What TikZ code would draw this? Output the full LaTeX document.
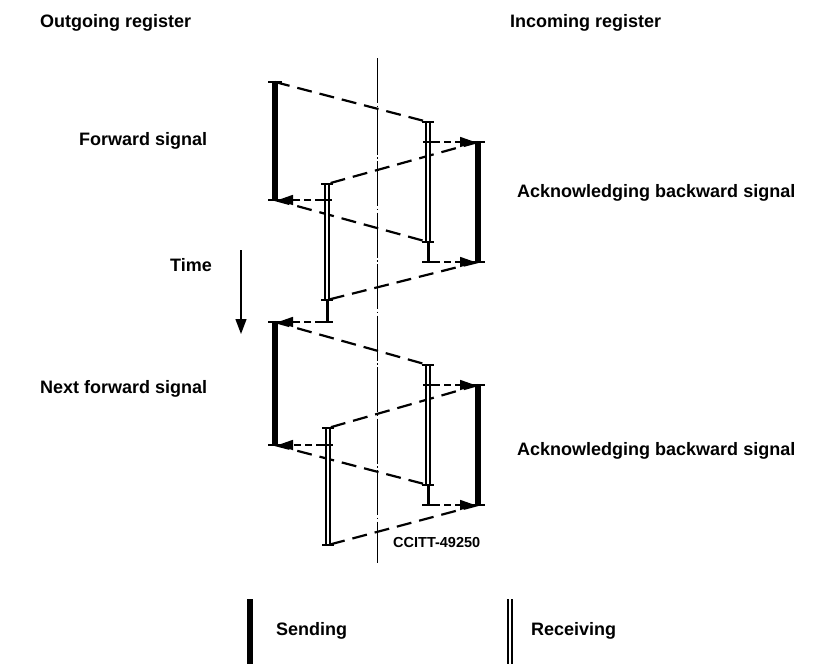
\documentclass[tikz,border=0pt]{standalone}
\usepackage{fontspec}
\setmainfont{Liberation Sans}
\usetikzlibrary{arrows.meta}
\begin{document}
\begin{tikzpicture}[x=1pt,y=-1pt,
  sendbar/.style={line width=6pt},
  recvbar/.style={double, double distance=2.4pt, line width=1.4pt},
  capline/.style={line width=2.8pt},
  stub/.style={line width=3pt},
  sig/.style={line width=2.2pt, dash pattern=on 15pt off 8pt},
  ack/.style={line width=1.7pt, dash pattern=on 7pt off 4pt, -{Triangle[length=15pt,width=10pt]}, shorten >=3pt, shorten <=5pt},
  axisline/.style={line width=1pt, dash pattern=on 45pt off 2.5pt on 1.5pt off 2.5pt},
  timearrow/.style={line width=1.3pt, -{Triangle[length=15pt,width=11pt]}},
  lab/.style={font=\fontsize{18}{20}\selectfont\bfseries, anchor=base west, inner sep=0pt},
  code/.style={font=\fontsize{14.5}{16}\selectfont\bfseries, anchor=base west, inner sep=0pt}
]
\useasboundingbox (0,0) rectangle (819,664);

\newcommand\CapAt[2]{\draw[capline] ([xshift=-#2]#1) -- ([xshift=#2]#1);}

% centre line
\coordinate (axT) at (377,58);
\coordinate (axB) at (377,563);
\draw[axisline] (axT) -- (axB);

% ---------- cycle 1 ----------
\coordinate (L1t) at (275,82);  \coordinate (L1b) at (275,200);
\coordinate (R1t) at (428,122); \coordinate (R1m) at (428,142);
\coordinate (R1b) at (428,242); \coordinate (R1e) at (428,262);
\coordinate (S1t) at (478,142); \coordinate (S1b) at (478,262);
\coordinate (Q1t) at (327,184); \coordinate (Q1m) at (327,200);
\coordinate (Q1b) at (327,300); \coordinate (Q1e) at (327,322);
% ---------- cycle 2 ----------
\coordinate (L2t) at (275,322); \coordinate (L2b) at (275,445);
\coordinate (R2t) at (428,365); \coordinate (R2m) at (428,385);
\coordinate (R2b) at (428,485); \coordinate (R2e) at (428,505);
\coordinate (S2t) at (478,385); \coordinate (S2b) at (478,505);
\coordinate (Q2t) at (328,428); \coordinate (Q2m) at (328,445);
\coordinate (Q2b) at (328,545);

% dashed signal lines
\draw[sig] (L1t) -- (R1t);
\draw[sig] (S1t) -- (Q1t);
\draw[sig] (L1b) -- (R1b);
\draw[sig] (S1b) -- (Q1b);
\draw[sig] (L2t) -- (R2t);
\draw[sig] (S2t) -- (Q2t);
\draw[sig] (L2b) -- (R2b);
\draw[sig] (S2b) -- (Q2b);

% sending bars
\draw[sendbar] (L1t) -- (L1b); \CapAt{L1t}{7pt} \CapAt{L1b}{7pt}
\draw[sendbar] (S1t) -- (S1b); \CapAt{S1t}{7pt} \CapAt{S1b}{7pt}
\draw[sendbar] (L2t) -- (L2b); \CapAt{L2t}{7pt} \CapAt{L2b}{7pt}
\draw[sendbar] (S2t) -- (S2b); \CapAt{S2t}{7pt} \CapAt{S2b}{7pt}

% receiving bars with stubs
\draw[recvbar] (R1t) -- (R1b); \draw[stub] (R1b) -- (R1e);
\CapAt{R1t}{6pt} \CapAt{R1m}{5pt} \CapAt{R1b}{6pt} \CapAt{R1e}{6pt}
\draw[recvbar] (Q1t) -- (Q1b); \draw[stub] (Q1b) -- (Q1e);
\CapAt{Q1t}{6pt} \CapAt{Q1m}{5pt} \CapAt{Q1b}{6pt} \CapAt{Q1e}{6pt}
\draw[recvbar] (R2t) -- (R2b); \draw[stub] (R2b) -- (R2e);
\CapAt{R2t}{6pt} \CapAt{R2m}{5pt} \CapAt{R2b}{6pt} \CapAt{R2e}{6pt}
\draw[recvbar] (Q2t) -- (Q2b);
\CapAt{Q2t}{6pt} \CapAt{Q2m}{5pt} \CapAt{Q2b}{6pt}

% acknowledgement arrows
\draw[ack] (R1m) -- (S1t);
\draw[ack] (Q1m) -- (L1b);
\draw[ack] (R1e) -- (S1b);
\draw[ack] (Q1e) -- (L2t);
\draw[ack] (R2m) -- (S2t);
\draw[ack] (Q2m) -- (L2b);
\draw[ack] (R2e) -- (S2b);

% time arrow
\coordinate (tA) at (241,250);
\coordinate (tB) at (241,334);
\draw[timearrow] (tA) -- (tB);

% labels
\node[lab] (hout) at (40,27) {Outgoing register};
\node[lab] (hin)  at (510,27) {Incoming register};
\node[lab] (fwd)  at (79,145) {Forward signal};
\node[lab] (ack1) at (517,197) {Acknowledging backward signal};
\node[lab] (time) at (170,271) {Time};
\node[lab] (nfwd) at (40,393) {Next forward signal};
\node[lab] (ack2) at (517,455) {Acknowledging backward signal};
\node[code] (ccitt) at (393,547) {CCITT-49250};

% legend
\coordinate (sgT) at (250,599); \coordinate (sgB) at (250,664);
\draw[sendbar] (sgT) -- (sgB);
\node[lab] (send) at (276,635) {Sending};
\coordinate (rvT) at (510,599); \coordinate (rvB) at (510,664);
\draw[recvbar] (rvT) -- (rvB);
\node[lab] (recv) at (531,635) {Receiving};
\end{tikzpicture}
\end{document}
